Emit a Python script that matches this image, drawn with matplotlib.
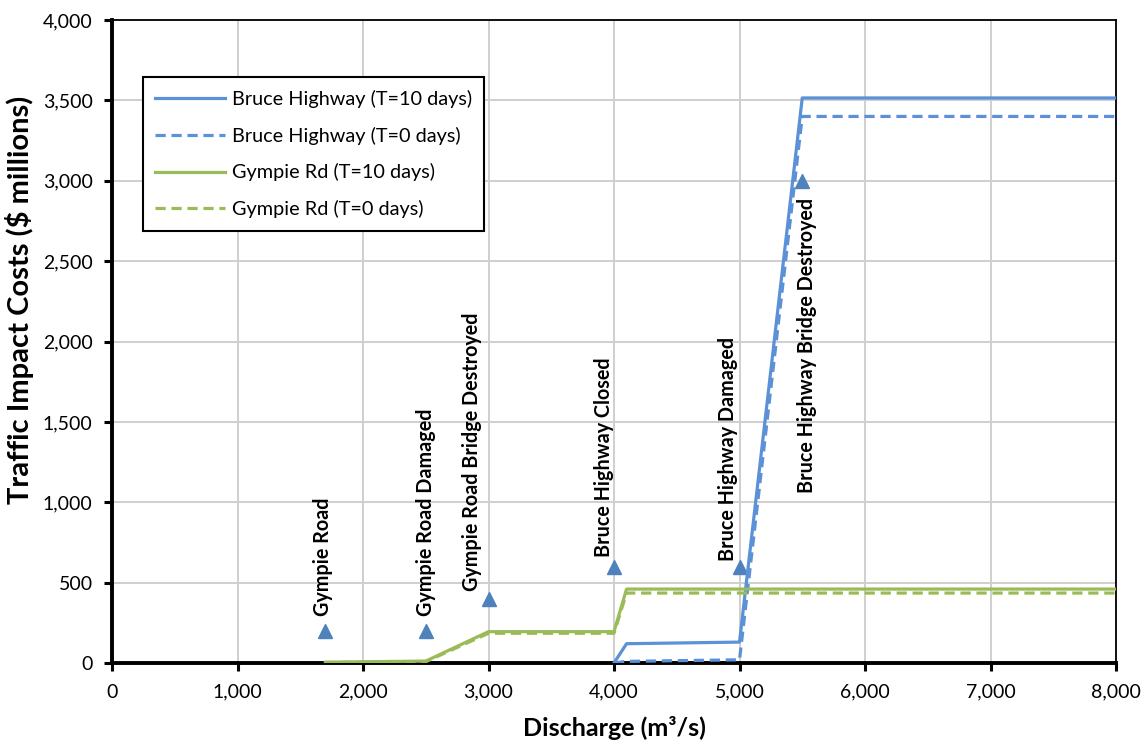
import matplotlib
matplotlib.use("Agg")
import matplotlib.pyplot as plt

plt.rcParams['font.family'] = ['Lato', 'DejaVu Sans']

# Gympie Rd series
gympie_x = [1700, 2500, 3000, 4000, 4100, 8000]
gympie_t10 = [5, 12, 195, 195, 460, 460]
gympie_t0 = [3, 8, 185, 185, 435, 435]

# Bruce Highway series
bruce_x = [4000, 4100, 5000, 5500, 8000]
bruce_t10 = [0, 120, 130, 3515, 3515]
bruce_t0 = [0, 10, 20, 3400, 3400]

# events (triangles + labels)
event_x = [1700, 2500, 3000, 4000, 5000, 5500]
event_y = [200, 200, 400, 600, 600, 3000]
event_labels = ["Gympie Road", "Gympie Road Damaged", "Gympie Road Bridge Destroyed",
                "Bruce Highway Closed", "Bruce Highway Damaged", "Bruce Highway Bridge Destroyed"]

blue = "#5B91D6"
green = "#9BBB59"
marker_col = "#4F81BD"

fig = plt.figure(figsize=(11.43, 7.4), dpi=100)
ax = fig.add_axes([112/1143, 1-663/740, (1116-112)/1143, (663-20)/740])

ax.plot(bruce_x, bruce_t10, color=blue, lw=2.3, label="Bruce Highway (T=10 days)", zorder=4)
ax.plot(bruce_x, bruce_t0, color=blue, lw=2.3, ls=(0, (3.2, 1.8)), label="Bruce Highway (T=0 days)", zorder=4)
ax.plot(gympie_x, gympie_t10, color=green, lw=2.3, label="Gympie Rd (T=10 days)", zorder=4)
ax.plot(gympie_x, gympie_t0, color=green, lw=2.3, ls=(0, (3.2, 1.8)), label="Gympie Rd (T=0 days)", zorder=4)

ax.plot(event_x, event_y, ls="none", marker="^", ms=10, color=marker_col, zorder=3)

# label offsets in pixels (dx, dy) and vertical alignment
offsets = [(-2, 15, 'bottom'), (0, 15, 'bottom'), (-16, 8, 'bottom'),
           (-10, 10, 'bottom'), (-11, 6, 'bottom'), (5, -17, 'top')]
for x, y, lab, (dx, dy, va) in zip(event_x, event_y, event_labels, offsets):
    ax.annotate(lab, (x, y), xytext=(dx, dy), textcoords='offset pixels',
                rotation=90, ha='center', va=va, fontsize=14.2, fontweight='bold', zorder=5)

ax.set_xlim(0, 8000)
ax.set_ylim(0, 4000)
ax.set_xticks(range(0, 8001, 1000))
ax.set_yticks(range(0, 4001, 500))
ax.xaxis.set_major_formatter(matplotlib.ticker.StrMethodFormatter("{x:,.0f}"))
ax.yaxis.set_major_formatter(matplotlib.ticker.StrMethodFormatter("{x:,.0f}"))
ax.tick_params(axis='both', labelsize=14, direction='out', length=6, width=2.2, color='black')
ax.tick_params(axis='x', pad=9)
ax.tick_params(axis='y', pad=8)

ax.grid(True, color="#CFCFCF", lw=1.4)
ax.set_axisbelow(True)
for side in ['left', 'bottom']:
    ax.spines[side].set_linewidth(2.8)
for side in ['top', 'right']:
    ax.spines[side].set_linewidth(1.3)

ax.set_xlabel("Discharge (m³/s)", fontsize=18, fontweight='bold', labelpad=11)
ax.set_ylabel("Traffic Impact Costs ($ millions)", fontsize=21, fontweight='bold')
ax.yaxis.set_label_coords(-0.078, 0.565)

leg = ax.legend(loc='upper left', bbox_to_anchor=(0.031, 0.911), fontsize=14.3,
                frameon=True, fancybox=False, shadow=False, framealpha=1,
                edgecolor='black', handlelength=3.5, labelspacing=0.95,
                borderpad=0.62, handletextpad=0.35, borderaxespad=0)
leg.get_frame().set_linewidth(1.5)

fig.savefig("out.png", dpi=100)
